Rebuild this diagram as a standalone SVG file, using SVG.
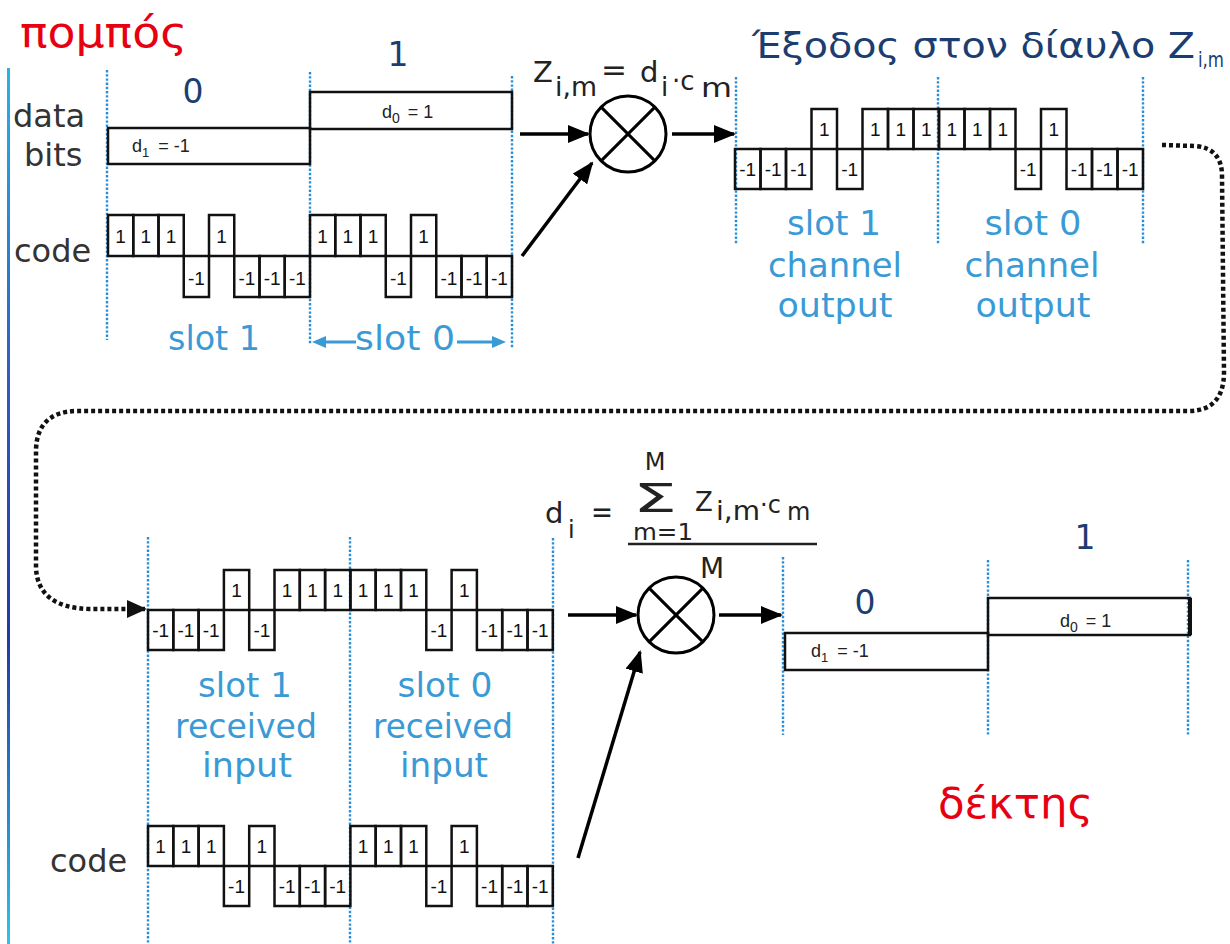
<svg xmlns="http://www.w3.org/2000/svg" width="1230" height="944" viewBox="0 0 1230 944">
<defs>
<style>
.chip{fill:none;stroke:#111;stroke-width:2.5}
.ct{font-family:"Liberation Sans",Arial,sans-serif;font-size:19px;text-anchor:middle;fill:#111}
.sl{stroke:#2a8fd4;stroke-width:2.4;stroke-dasharray:2.4 1.8;fill:none}
.lbl{font-family:"DejaVu Sans",sans-serif;font-size:33px;fill:#3a9ad6;text-anchor:middle}
.side{font-family:"DejaVu Sans",sans-serif;font-size:32px;fill:#333}
.bit{font-family:"DejaVu Sans",sans-serif;font-size:33px;fill:#1c3d70;text-anchor:middle}
.red{font-family:"DejaVu Sans",sans-serif;font-size:42px;fill:#e60012}
.f{font-family:"DejaVu Sans",sans-serif;fill:#222}
.box{fill:none;stroke:#111;stroke-width:2.5}
.dt{font-family:"Liberation Sans",Arial,sans-serif;font-size:18px;fill:#222}
.arr{stroke:#000;stroke-width:3.5;fill:none;marker-end:url(#ah)}
.mul{fill:none;stroke:#000;stroke-width:3}
.dot{fill:none;stroke:#111;stroke-width:4.5;stroke-dasharray:4 3;marker-end:url(#ahd)}
</style>
<marker id="ah" markerUnits="userSpaceOnUse" markerWidth="22" markerHeight="18" refX="20" refY="9" orient="auto"><path d="M0,0 L22,9 L0,18 z" fill="#000"/></marker>
<marker id="ahd" markerUnits="userSpaceOnUse" markerWidth="20" markerHeight="18" refX="18" refY="9" orient="auto"><path d="M0,0 L20,9 L0,18 z" fill="#111"/></marker>
<linearGradient id="bord" gradientUnits="userSpaceOnUse" x1="0" y1="68" x2="0" y2="944">
<stop offset="0" stop-color="#26b4e6"/><stop offset="0.35" stop-color="#2f5cc4"/><stop offset="0.65" stop-color="#2238a8"/><stop offset="1" stop-color="#2ac4e8"/>
</linearGradient>
</defs>
<rect width="1230" height="944" fill="#fff"/>
<rect x="7" y="68" width="3" height="876" fill="url(#bord)"/>

<g id="titles">
<text class="red" x="20" y="47" textLength="167" lengthAdjust="spacingAndGlyphs">πομπός</text>
<text class="red" x="938" y="818" textLength="155" lengthAdjust="spacingAndGlyphs">δέκτης</text>
<text class="f" x="752" y="58" font-size="36" style="fill:#1c3d70" textLength="443" lengthAdjust="spacingAndGlyphs">Έξοδος στον δίαυλο Z</text>
<text class="f" x="1198" y="67" font-size="21" style="fill:#1c3d70" textLength="26" lengthAdjust="spacingAndGlyphs">i,m</text>
</g>

<g id="slot-lines">
<line class="sl" x1="107" y1="70" x2="107" y2="340"/>
<line class="sl" x1="310" y1="72" x2="310" y2="345"/>
<line class="sl" x1="512" y1="76" x2="512" y2="348"/>
<line class="sl" x1="736" y1="77" x2="736" y2="245"/>
<line class="sl" x1="938" y1="77" x2="938" y2="245"/>
<line class="sl" x1="1143" y1="77" x2="1143" y2="245"/>
<line class="sl" x1="148" y1="537" x2="148" y2="944"/>
<line class="sl" x1="350" y1="537" x2="350" y2="944"/>
<line class="sl" x1="553" y1="538" x2="553" y2="944"/>
<line class="sl" x1="783" y1="557" x2="783" y2="735"/>
<line class="sl" x1="988" y1="560" x2="988" y2="735"/>
<line class="sl" x1="1188" y1="560" x2="1188" y2="735"/>
</g>

<g id="tx-data">
<text class="side" x="13" y="127">data</text>
<text class="side" x="24" y="166">bits</text>
<text class="bit" x="193" y="103">0</text>
<text class="bit" x="398" y="66">1</text>
<rect class="box" x="108" y="128" width="202" height="36"/>
<rect class="box" x="310" y="92" width="202" height="37"/>
<text class="dt" x="132" y="152">d<tspan font-size="13" dy="5">1</tspan><tspan dy="-5" dx="9">= -1</tspan></text>
<text class="dt" x="382" y="118">d<tspan font-size="14" dy="5">0</tspan><tspan dy="-5" dx="8">= 1</tspan></text>
</g>

<g id="tx-code">
<text class="side" x="14" y="262">code</text>
<rect class="chip" x="108" y="215" width="25.25" height="41"/>
<rect class="chip" x="133.25" y="215" width="25.25" height="41"/>
<rect class="chip" x="158.5" y="215" width="25.25" height="41"/>
<rect class="chip" x="183.75" y="256" width="25.25" height="41"/>
<rect class="chip" x="209" y="215" width="25.25" height="41"/>
<rect class="chip" x="234.25" y="256" width="25.25" height="41"/>
<rect class="chip" x="259.5" y="256" width="25.25" height="41"/>
<rect class="chip" x="284.75" y="256" width="25.25" height="41"/>
<rect class="chip" x="310" y="215" width="25.25" height="41"/>
<rect class="chip" x="335.25" y="215" width="25.25" height="41"/>
<rect class="chip" x="360.5" y="215" width="25.25" height="41"/>
<rect class="chip" x="385.75" y="256" width="25.25" height="41"/>
<rect class="chip" x="411" y="215" width="25.25" height="41"/>
<rect class="chip" x="436.25" y="256" width="25.25" height="41"/>
<rect class="chip" x="461.5" y="256" width="25.25" height="41"/>
<rect class="chip" x="486.75" y="256" width="25.25" height="41"/>
<text class="ct" x="120.6" y="243">1</text><text class="ct" x="145.9" y="243">1</text><text class="ct" x="171.1" y="243">1</text>
<text class="ct" x="196.4" y="285">-1</text><text class="ct" x="221.6" y="243">1</text><text class="ct" x="246.9" y="285">-1</text>
<text class="ct" x="272.1" y="285">-1</text><text class="ct" x="297.4" y="285">-1</text>
<text class="ct" x="322.6" y="243">1</text><text class="ct" x="347.9" y="243">1</text><text class="ct" x="373.1" y="243">1</text>
<text class="ct" x="398.4" y="285">-1</text><text class="ct" x="423.6" y="243">1</text><text class="ct" x="448.9" y="285">-1</text>
<text class="ct" x="474.1" y="285">-1</text><text class="ct" x="499.4" y="285">-1</text>
<text class="lbl" x="214" y="350" textLength="92" lengthAdjust="spacingAndGlyphs">slot 1</text>
<text class="lbl" x="405" y="350" textLength="100" lengthAdjust="spacingAndGlyphs">slot 0</text>
<line x1="356" y1="342" x2="322" y2="342" stroke="#3a9ad6" stroke-width="3"/>
<path d="M312,342 L326,336 L326,348 z" fill="#3a9ad6"/>
<line x1="457" y1="342" x2="494" y2="342" stroke="#3a9ad6" stroke-width="3"/>
<path d="M506,342 L492,336 L492,348 z" fill="#3a9ad6"/>
</g>

<g id="mult-tx">
<circle class="mul" cx="628" cy="134" r="38"/>
<line class="mul" x1="601.1" y1="107.1" x2="654.9" y2="160.9"/>
<line class="mul" x1="654.9" y1="107.1" x2="601.1" y2="160.9"/>
<text class="f" x="533" y="82" font-size="29">Z</text>
<text class="f" x="555" y="96" font-size="26" textLength="42" lengthAdjust="spacingAndGlyphs">i,m</text>
<text class="f" x="601" y="80" font-size="30" textLength="26" lengthAdjust="spacingAndGlyphs">=</text>
<text class="f" x="640" y="82" font-size="29">d</text>
<text class="f" x="661" y="96" font-size="26">i</text>
<text class="f" x="672" y="90" font-size="26">·c</text>
<text class="f" x="701" y="97" font-size="27" textLength="31" lengthAdjust="spacingAndGlyphs">m</text>
</g>

<g id="channel">
<rect class="chip" x="735" y="149" width="25.5" height="40"/>
<rect class="chip" x="760.5" y="149" width="25.5" height="40"/>
<rect class="chip" x="786" y="149" width="25.5" height="40"/>
<rect class="chip" x="811.5" y="109" width="25.5" height="40"/>
<rect class="chip" x="837" y="149" width="25.5" height="40"/>
<rect class="chip" x="862.5" y="109" width="25.5" height="40"/>
<rect class="chip" x="888" y="109" width="25.5" height="40"/>
<rect class="chip" x="913.5" y="109" width="25.5" height="40"/>
<rect class="chip" x="939" y="109" width="25.5" height="40"/>
<rect class="chip" x="964.5" y="109" width="25.5" height="40"/>
<rect class="chip" x="990" y="109" width="25.5" height="40"/>
<rect class="chip" x="1015.5" y="149" width="25.5" height="40"/>
<rect class="chip" x="1041" y="109" width="25.5" height="40"/>
<rect class="chip" x="1066.5" y="149" width="25.5" height="40"/>
<rect class="chip" x="1092" y="149" width="25.5" height="40"/>
<rect class="chip" x="1117.5" y="149" width="25.5" height="40"/>
<text class="ct" x="747.75" y="176">-1</text><text class="ct" x="773.25" y="176">-1</text><text class="ct" x="798.75" y="176">-1</text>
<text class="ct" x="824.25" y="136">1</text><text class="ct" x="849.75" y="176">-1</text><text class="ct" x="875.25" y="136">1</text>
<text class="ct" x="900.75" y="136">1</text><text class="ct" x="926.25" y="136">1</text><text class="ct" x="951.75" y="136">1</text>
<text class="ct" x="977.25" y="136">1</text><text class="ct" x="1002.75" y="136">1</text><text class="ct" x="1028.25" y="176">-1</text>
<text class="ct" x="1053.75" y="136">1</text><text class="ct" x="1079.25" y="176">-1</text><text class="ct" x="1104.75" y="176">-1</text>
<text class="ct" x="1130.25" y="176">-1</text>
<text class="lbl" x="834" y="235" textLength="94" lengthAdjust="spacingAndGlyphs">slot 1</text>
<text class="lbl" x="835" y="277" textLength="134" lengthAdjust="spacingAndGlyphs">channel</text>
<text class="lbl" x="835" y="317" textLength="115" lengthAdjust="spacingAndGlyphs">output</text>
<text class="lbl" x="1033" y="235" textLength="97" lengthAdjust="spacingAndGlyphs">slot 0</text>
<text class="lbl" x="1032" y="277" textLength="135" lengthAdjust="spacingAndGlyphs">channel</text>
<text class="lbl" x="1033" y="317" textLength="115" lengthAdjust="spacingAndGlyphs">output</text>
</g>

<g id="received">
<rect class="chip" x="148" y="610" width="25.3" height="40"/>
<rect class="chip" x="173.3" y="610" width="25.3" height="40"/>
<rect class="chip" x="198.6" y="610" width="25.3" height="40"/>
<rect class="chip" x="223.9" y="570" width="25.3" height="40"/>
<rect class="chip" x="249.2" y="610" width="25.3" height="40"/>
<rect class="chip" x="274.5" y="570" width="25.3" height="40"/>
<rect class="chip" x="299.8" y="570" width="25.3" height="40"/>
<rect class="chip" x="325.1" y="570" width="25.3" height="40"/>
<rect class="chip" x="350.4" y="570" width="25.3" height="40"/>
<rect class="chip" x="375.7" y="570" width="25.3" height="40"/>
<rect class="chip" x="401" y="570" width="25.3" height="40"/>
<rect class="chip" x="426.3" y="610" width="25.3" height="40"/>
<rect class="chip" x="451.6" y="570" width="25.3" height="40"/>
<rect class="chip" x="476.9" y="610" width="25.3" height="40"/>
<rect class="chip" x="502.2" y="610" width="25.3" height="40"/>
<rect class="chip" x="527.5" y="610" width="25.3" height="40"/>
<text class="ct" x="160.65" y="637">-1</text><text class="ct" x="185.95" y="637">-1</text><text class="ct" x="211.25" y="637">-1</text>
<text class="ct" x="236.55" y="597">1</text><text class="ct" x="261.85" y="637">-1</text><text class="ct" x="287.15" y="597">1</text>
<text class="ct" x="312.45" y="597">1</text><text class="ct" x="337.75" y="597">1</text><text class="ct" x="363.05" y="597">1</text>
<text class="ct" x="388.35" y="597">1</text><text class="ct" x="413.65" y="597">1</text><text class="ct" x="438.95" y="637">-1</text>
<text class="ct" x="464.25" y="597">1</text><text class="ct" x="489.55" y="637">-1</text><text class="ct" x="514.85" y="637">-1</text>
<text class="ct" x="540.15" y="637">-1</text>
<text class="lbl" x="245" y="697" textLength="94" lengthAdjust="spacingAndGlyphs">slot 1</text>
<text class="lbl" x="246" y="738" textLength="142" lengthAdjust="spacingAndGlyphs">received</text>
<text class="lbl" x="247" y="777" textLength="90" lengthAdjust="spacingAndGlyphs">input</text>
<text class="lbl" x="445" y="697" textLength="95" lengthAdjust="spacingAndGlyphs">slot 0</text>
<text class="lbl" x="443" y="738" textLength="140" lengthAdjust="spacingAndGlyphs">received</text>
<text class="lbl" x="444" y="777" textLength="88" lengthAdjust="spacingAndGlyphs">input</text>
</g>

<g id="rx-code">
<text class="side" x="50" y="872">code</text>
<rect class="chip" x="148" y="826" width="25.3" height="40"/>
<rect class="chip" x="173.3" y="826" width="25.3" height="40"/>
<rect class="chip" x="198.6" y="826" width="25.3" height="40"/>
<rect class="chip" x="223.9" y="866" width="25.3" height="40"/>
<rect class="chip" x="249.2" y="826" width="25.3" height="40"/>
<rect class="chip" x="274.5" y="866" width="25.3" height="40"/>
<rect class="chip" x="299.8" y="866" width="25.3" height="40"/>
<rect class="chip" x="325.1" y="866" width="25.3" height="40"/>
<rect class="chip" x="350.4" y="826" width="25.3" height="40"/>
<rect class="chip" x="375.7" y="826" width="25.3" height="40"/>
<rect class="chip" x="401" y="826" width="25.3" height="40"/>
<rect class="chip" x="426.3" y="866" width="25.3" height="40"/>
<rect class="chip" x="451.6" y="826" width="25.3" height="40"/>
<rect class="chip" x="476.9" y="866" width="25.3" height="40"/>
<rect class="chip" x="502.2" y="866" width="25.3" height="40"/>
<rect class="chip" x="527.5" y="866" width="25.3" height="40"/>
<text class="ct" x="160.65" y="853">1</text><text class="ct" x="185.95" y="853">1</text><text class="ct" x="211.25" y="853">1</text>
<text class="ct" x="236.55" y="893">-1</text><text class="ct" x="261.85" y="853">1</text><text class="ct" x="287.15" y="893">-1</text>
<text class="ct" x="312.45" y="893">-1</text><text class="ct" x="337.75" y="893">-1</text><text class="ct" x="363.05" y="853">1</text>
<text class="ct" x="388.35" y="853">1</text><text class="ct" x="413.65" y="853">1</text><text class="ct" x="438.95" y="893">-1</text>
<text class="ct" x="464.25" y="853">1</text><text class="ct" x="489.55" y="893">-1</text><text class="ct" x="514.85" y="893">-1</text>
<text class="ct" x="540.15" y="893">-1</text>
</g>

<g id="mult-rx">
<circle class="mul" cx="676" cy="615" r="38"/>
<line class="mul" x1="649.1" y1="588.1" x2="702.9" y2="641.9"/>
<line class="mul" x1="702.9" y1="588.1" x2="649.1" y2="641.9"/>
<text class="f" x="545" y="523" font-size="29">d</text>
<text class="f" x="568" y="538" font-size="24">i</text>
<text class="f" x="591" y="522" font-size="30" textLength="22" lengthAdjust="spacingAndGlyphs">=</text>
<text class="f" x="655" y="470" font-size="24" text-anchor="middle">M</text>
<text class="f" x="633" y="512" font-size="39" textLength="44" lengthAdjust="spacingAndGlyphs">Σ</text>
<text class="f" x="633" y="540" font-size="23" textLength="60" lengthAdjust="spacingAndGlyphs">m=1</text>
<text class="f" x="695" y="511" font-size="26">Z</text>
<text class="f" x="716" y="520" font-size="26" textLength="44" lengthAdjust="spacingAndGlyphs">i,m</text>
<text class="f" x="760" y="513" font-size="24">·c</text>
<text class="f" x="787" y="520" font-size="24">m</text>
<line x1="628" y1="544" x2="817" y2="544" stroke="#222" stroke-width="2.5"/>
<text class="f" x="700" y="578" font-size="28">M</text>
</g>

<g id="rx-data">
<text class="bit" x="865" y="614">0</text>
<text class="bit" x="1085" y="549">1</text>
<rect class="box" x="785" y="633" width="203" height="37"/>
<rect class="box" x="988" y="598" width="202" height="37"/>
<line x1="1190" y1="598" x2="1190" y2="635" stroke="#111" stroke-width="4"/>
<text class="dt" x="811" y="657">d<tspan font-size="13" dy="5">1</tspan><tspan dy="-5" dx="9">= -1</tspan></text>
<text class="dt" x="1060" y="627">d<tspan font-size="14" dy="5">0</tspan><tspan dy="-5" dx="8">= 1</tspan></text>
</g>

<g id="connectors">
<line class="arr" x1="520" y1="134" x2="588" y2="134"/>
<line class="arr" x1="522" y1="256" x2="592" y2="163"/>
<line class="arr" x1="672" y1="134" x2="734" y2="134"/>
<line class="arr" x1="568" y1="615" x2="636" y2="615"/>
<line class="arr" x1="719" y1="615" x2="781" y2="615"/>
<line class="arr" x1="578" y1="858" x2="640" y2="652"/>
<path class="dot" d="M1162,145 L1195,146 Q1222,148 1222,176 L1224,372 Q1224,411 1188,411 L76,411 Q37,412 36,450 L36,568 Q38,608 90,609 L145,609"/>
</g>
</svg>
